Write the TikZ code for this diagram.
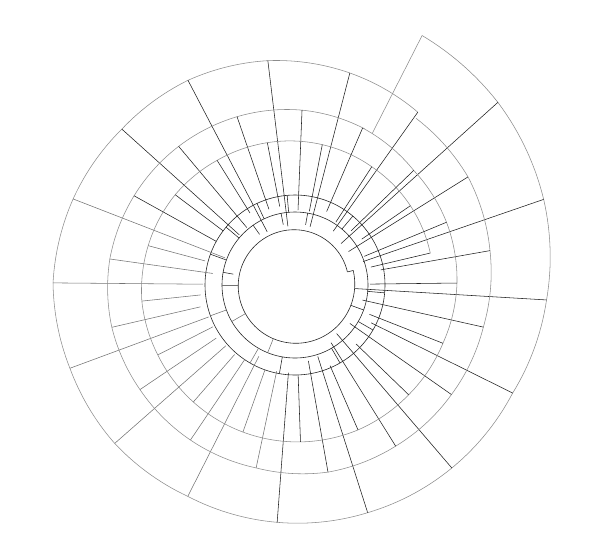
\documentclass[tikz,border=0pt]{standalone}
\begin{document}
\begin{tikzpicture}[x=1pt,y=-1pt,
  ray/.style={line width=0.55pt},
  faintray/.style={black!45,line width=0.55pt},
  arcline/.style={black!45,line width=0.55pt},
  ring/.style={black!85,line width=0.6pt}]
\useasboundingbox (0,0) rectangle (612,555);
\coordinate (O) at (295,285);
\newcommand\rayshade[1]{\pgfmathsetmacro\shd{(#1>100 && #1<205) ? 55 : 88}}
\begin{scope}[shift={(O)}]
% inner spiral and rings
\draw[ring] plot[domain=-14:346,samples=120,variable=\t] (\t:{60-6*(\t+14)/360});
\draw[ring] (-14:54) -- (-14:60);
\draw[ring] (0,0) circle[radius=73];
\draw[ring] (0,0) circle[radius=90];
% ticks in inner rings
\foreach \a in {-101,-80,112,150,-170,20,-125,180}
  {\rayshade{\a}\draw[ray,black!\shd] (\a:{60-6*(\a+14)/360}) -- (\a:73);}
\foreach \a in {-115,-95,-140,-160,160,120,100,60,30,5,-50}
  {\rayshade{\a}\draw[ray,black!\shd] (\a:73) -- (\a:90);}
% level A (outer)
\foreach \a/\r/\b/\s in {-63/280/-42/273, -42/273/-19/263, -19/263/3.4/252, 3.4/252/26.4/243, 26.4/243/49.4/241, 49.4/241/72.3/239, 72.3/239/94.3/238, 94.3/238/116.9/237, 116.9/237/138.7/240, 138.7/240/159.7/240, 159.7/240/180.5/242, 180.5/242/201.2/238, 201.2/238/222/233, 222/233/242.4/231, 242.4/231/263.1/226, 263.1/226/284.5/219, 284.5/219/305.4/212}
  \draw[arcline] plot[domain=\a:\b,samples=16,variable=\t] (\t:{\r+(\s-\r)*(\t-\a)/(\b-\a)});
\draw[faintray] (-63:170) -- (-63:280);
\foreach \a/\ri/\ro in {-42/62/273, -19/72/263, 3.4/60/252, 26.4/85/243, 49.4/64/241, 72.3/75/239, 94.3/88/238, 116.9/80/237, 138.7/92/240, 159.7/92/240, 180.5/92/242, 201.2/75/238, 222/75/233, 242.4/60/231, 263.1/59/226, 284.5/60/219, 305.4/66/212}
  {\rayshade{\a}\draw[ray,black!\shd] (\a:\ri) -- (\a:\ro);}
% level B
\foreach \a/\r/\b/\s in {-54/206/-32/204, -32/204/-10/198, -10/198/12.6/193, 12.6/193/35/191, 35/191/58/190, 58/190/80/190, 80/190/102/187, 102/187/124/187, 124/187/146/187, 146/187/167/188, 167/188/188/187, 188/187/209/184, 209/184/230/181, 230/181/251/178, 251/178/272.3/175, 272.3/175/294/171}
  \draw[arcline] plot[domain=\a:\b,samples=16,variable=\t] (\t:{\r+(\s-\r)*(\t-\a)/(\b-\a)});
\foreach \a/\ri/\ro in {-32/63/204, -10/87/198, 12.6/69/193, 35/67/191, 58/68/190, 80/77/190, 102/88/187, 124/90/187, 146/95/187, 167/97/188, 188/83/187, 209/90/184, 230/75/181, 251/80/178, 272.3/75/175}
  {\rayshade{\a}\draw[ray,black!\shd] (\a:\ri) -- (\a:\ro);}
% level C
\foreach \a/\r/\b/\s in {-66.7/171/-44/165, -44/165/-22.5/164, -22.5/164/-0.7/162, -0.7/162/21.5/159, 21.5/159/44/158, 44/158/66.5/158, 66.5/158/88/157, 88/157/109.5/156, 109.5/156/131/155, 131/155/153/154, 153/154/174/154, 174/154/195/152, 195/152/217/150, 217/150/238/147, 238/147/259/145, 259/145/281/143, 281/143/303/141, 303/141/325.5/140, 325.5/140/346.7/139}
  \draw[arcline] plot[domain=\a:\b,samples=16,variable=\t] (\t:{\r+(\s-\r)*(\t-\a)/(\b-\a)});
\foreach \a/\ri/\ro in {-66.7/80/171, -44/78/165, -22.5/75/164, -0.7/75/162, 21.5/80/159, 44/85/158, 66.5/88/158, 88/90/157, 109.5/90/156, 131/92/155, 153/92/154, 174/95/154, 195/93/152, 217/90/150, 238/85/147, 259/80/145, 281/75/143, 303/75/141, 325.5/81/140, 346.7/78/139}
  {\rayshade{\a}\draw[ray,black!\shd] (\a:\ri) -- (\a:\ro);}
\end{scope}
\end{tikzpicture}
\end{document}
